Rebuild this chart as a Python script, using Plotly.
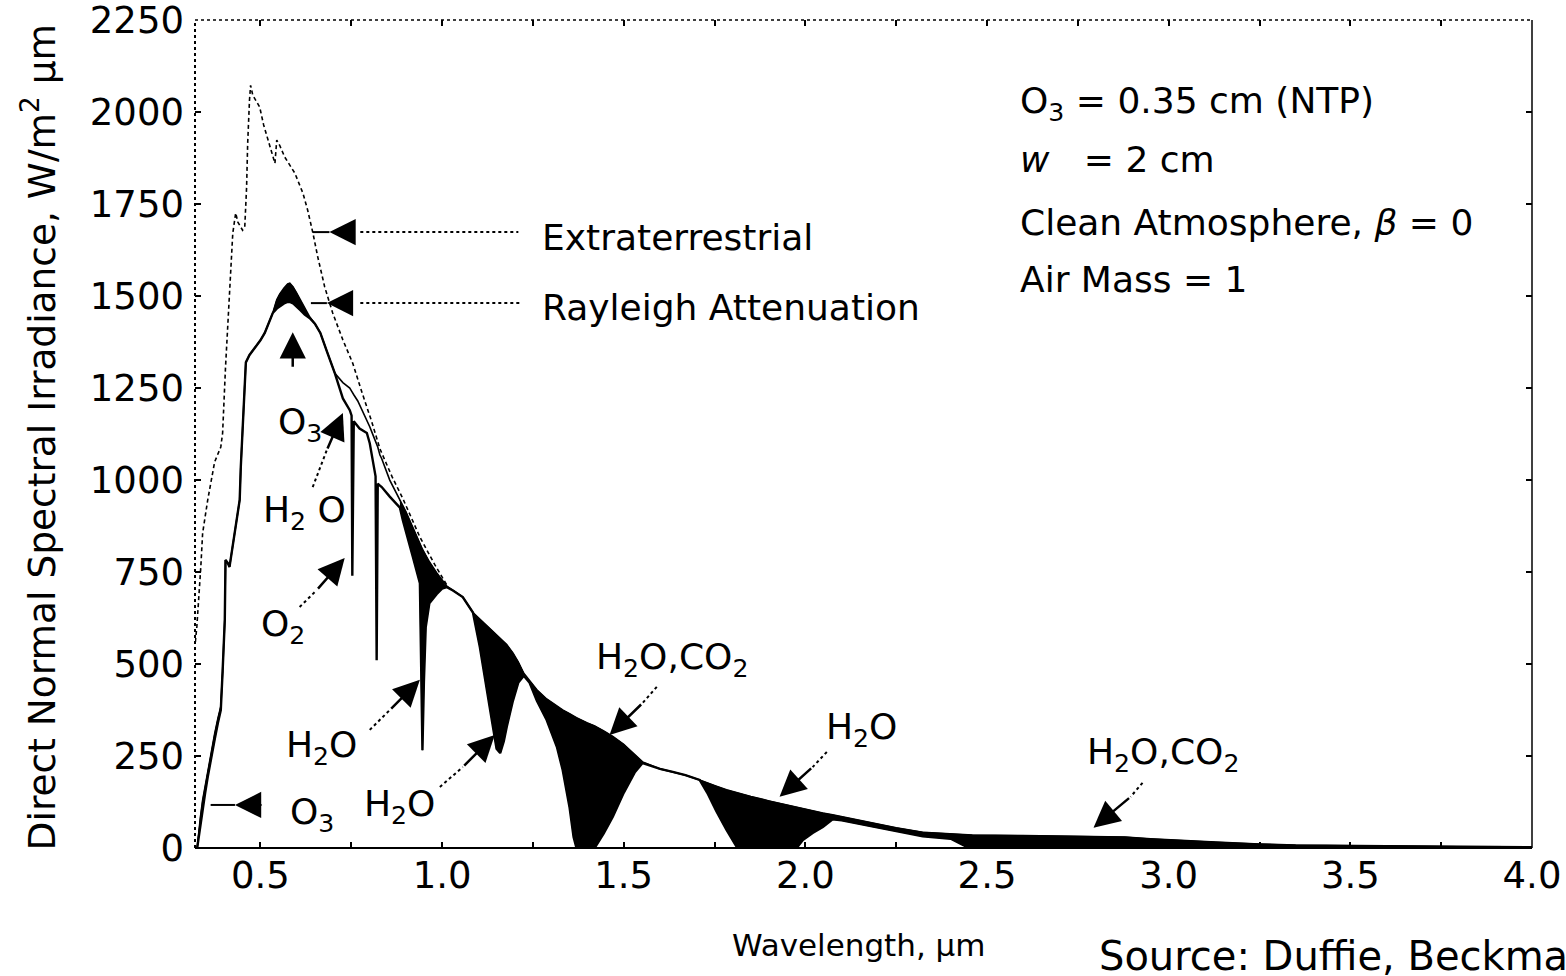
import plotly.graph_objects as go

# ---------------- data ----------------
WAVELENGTH = [0.326, 0.330, 0.335, 0.341, 0.348, 0.355, 0.364, 0.374, 0.383, 0.391,
              0.396, 0.402, 0.404, 0.410, 0.415, 0.422, 0.429, 0.436, 0.443, 0.446,
              0.451, 0.455, 0.460, 0.470, 0.485, 0.500, 0.512, 0.524, 0.534, 0.545,
              0.553, 0.565, 0.575, 0.581, 0.590, 0.600, 0.610, 0.622, 0.636, 0.650,
              0.665, 0.683, 0.705, 0.727, 0.746, 0.751, 0.753, 0.757, 0.768, 0.773,
              0.793, 0.801, 0.809, 0.817, 0.820, 0.823, 0.829, 0.834, 0.856, 0.864,
              0.884, 0.892, 0.900, 0.920, 0.939, 0.942, 0.946, 0.950, 0.955, 0.965,
              0.985, 1.000, 1.013, 1.030, 1.057, 1.085, 1.104, 1.131, 1.150, 1.160,
              1.170, 1.178, 1.195, 1.210, 1.225, 1.241, 1.261, 1.288, 1.316, 1.332,
              1.351, 1.362, 1.370, 1.400, 1.420, 1.445, 1.470, 1.500, 1.530, 1.552,
              1.600, 1.635, 1.670, 1.709, 1.730, 1.755, 1.783, 1.811, 1.850, 1.900,
              1.976, 1.993, 2.020, 2.048, 2.075, 2.100, 2.185, 2.250, 2.323, 2.400,
              2.440, 2.460, 2.600, 2.750, 2.880, 2.950, 3.000, 3.130, 3.250, 3.350,
              3.600, 3.800, 4.000]

RAYLEIGH = [0, 45, 85, 130, 170, 210, 262, 310, 352, 385,
            480, 620, 783, 775, 764, 810, 856, 900, 946, 1035,
            1144, 1200, 1320, 1340, 1360, 1380, 1400, 1430, 1454, 1490,
            1505, 1522, 1533, 1535, 1525, 1508, 1490, 1465, 1443, 1425,
            1400, 1350, 1290, 1265, 1250, 1242, 1238, 1232, 1215, 1205,
            1165, 1145, 1125, 1105, 1098, 1090, 1068, 1058, 1000, 985,
            945, 930, 915, 870, 825, 820, 812, 805, 795, 778,
            748, 728, 712, 700, 682, 640, 622, 597, 580, 570,
            560, 553, 530, 505, 475, 455, 430, 405, 385, 375,
            365, 358, 354, 340, 332, 318, 303, 282, 254, 234,
            215, 207, 198, 185, 178, 168, 158, 150, 140, 128,
            110, 106, 100, 95, 90, 85, 68, 55, 43, 38,
            37, 35, 34, 32, 30, 25, 22, 16, 11, 8,
            6, 5, 3]

DIRECT = [0, 30, 65, 112, 150, 193, 245, 294, 340, 375,
          480, 620, 783, 775, 764, 810, 856, 900, 946, 1035,
          1144, 1200, 1320, 1340, 1360, 1380, 1400, 1430, 1454, 1466,
          1472, 1480, 1484, 1484, 1480, 1472, 1462, 1450, 1440, 1425,
          1400, 1350, 1290, 1222, 1190, 1175, 740, 1160, 1144, 1140,
          1128, 1100, 1055, 1010, 510, 990, 985, 981, 955, 946,
          925, 891, 860, 790, 720, 500, 266, 450, 600, 665,
          690, 705, 709, 700, 682, 640, 546, 383, 270, 258,
          290, 329, 400, 450, 468, 449, 400, 348, 275, 212,
          110, 30, 0, 0, 0, 40, 85, 150, 205, 231,
          215, 207, 198, 185, 150, 100, 49, 3, 0, 0,
          0, 22, 41, 57, 78, 75, 58, 45, 32, 25,
          5, 0, 0, 0, 0, 2, 3, 4, 3, 3,
          3, 3, 2]

ET_WAVELENGTH = [0.321, 0.325, 0.336, 0.341, 0.355, 0.374, 0.391, 0.396, 0.404, 0.415,
                 0.418, 0.424, 0.432, 0.438, 0.451, 0.457, 0.462, 0.465, 0.470, 0.473,
                 0.479, 0.487, 0.498, 0.509, 0.520, 0.531, 0.540, 0.545, 0.553, 0.567,
                 0.581, 0.595, 0.617, 0.630, 0.644, 0.658, 0.677, 0.699, 0.727, 0.754,
                 0.779, 0.806, 0.829, 0.862, 0.892, 0.939, 0.980, 1.013]
ET_IRRADIANCE = [560, 601, 764, 856, 946, 1049, 1090, 1128, 1307, 1489,
                 1563, 1671, 1726, 1701, 1679, 1688, 1796, 1916, 2033, 2073,
                 2046, 2033, 2014, 1965, 1929, 1897, 1861, 1924, 1910, 1878,
                 1856, 1834, 1780, 1734, 1674, 1606, 1525, 1454, 1381, 1318,
                 1240, 1160, 1085, 1010, 950, 845, 770, 715]

# wavelength intervals where the absorbed part is shaded black
ABSORPTION_BANDS = [(0.326, 0.396), (0.534, 0.636), (0.884, 1.013),
                    (1.085, 1.225), (1.241, 1.552), (1.709, 4.0)]

X_TICKS = [0.5, 0.75, 1.0, 1.25, 1.5, 1.75, 2.0, 2.25, 2.5, 2.75, 3.0, 3.25, 3.5, 3.75, 4.0]
X_TICK_LABELS = ['0.5', '', '1.0', '', '1.5', '', '2.0', '', '2.5', '', '3.0', '', '3.5', '', '4.0']
Y_TICKS = [0, 250, 500, 750, 1000, 1250, 1500, 1750, 2000, 2250]
Y_TICK_LABELS = [str(v) for v in Y_TICKS]

FONT = 'DejaVu Sans'
BIG = 36
TICK = 37

fig = go.Figure()

fig.add_trace(go.Scatter(x=ET_WAVELENGTH, y=ET_IRRADIANCE, mode='lines',
                         line=dict(color='black', width=1.6, dash='4px,3px'),
                         hoverinfo='skip', showlegend=False))

for a, b in ABSORPTION_BANDS:
    idx = [i for i, w in enumerate(WAVELENGTH) if a <= w <= b]
    bx = [WAVELENGTH[i] for i in idx] + [WAVELENGTH[i] for i in reversed(idx)]
    by = [RAYLEIGH[i] for i in idx] + [DIRECT[i] for i in reversed(idx)]
    fig.add_trace(go.Scatter(x=bx, y=by, mode='lines', fill='toself', fillcolor='black',
                             line=dict(color='black', width=1), hoverinfo='skip',
                             showlegend=False))

fig.add_trace(go.Scatter(x=WAVELENGTH, y=RAYLEIGH, mode='lines',
                         line=dict(color='black', width=1.6), showlegend=False))
fig.add_trace(go.Scatter(x=WAVELENGTH, y=DIRECT, mode='lines',
                         line=dict(color='black', width=2.4), showlegend=False))

shapes = [
    dict(type='line', xref='paper', yref='paper', x0=0, x1=1, y0=0, y1=0,
         line=dict(color='black', width=2)),
    dict(type='line', xref='paper', yref='paper', x0=1, x1=1, y0=0, y1=1,
         line=dict(color='black', width=1.5)),
    dict(type='line', xref='paper', yref='paper', x0=0, x1=0, y0=0, y1=1,
         line=dict(color='black', width=2, dash='dot')),
    dict(type='line', xref='paper', yref='paper', x0=0, x1=1, y0=1, y1=1,
         line=dict(color='black', width=1.5, dash='dot')),
]

annotations = []


def label(text, x, y, anchor='center', size=BIG):
    annotations.append(dict(text=text, x=x, y=y, xref='x', yref='y', showarrow=False,
                            xanchor=anchor, yanchor='middle',
                            font=dict(family=FONT, size=size, color='black')))


def head(tip, base, width=2.5, size=2.1):
    annotations.append(dict(text='', x=tip[0], y=tip[1], ax=base[0], ay=base[1],
                            xref='x', yref='y', axref='x', ayref='y', showarrow=True,
                            arrowhead=2, arrowsize=size, arrowwidth=width,
                            arrowcolor='black', standoff=0))


def dotted(p0, p1):
    shapes.append(dict(type='line', xref='x', yref='y', x0=p0[0], y0=p0[1], x1=p1[0], y1=p1[1],
                       line=dict(color='black', width=2, dash='dot')))


def solid(p0, p1, w=2):
    shapes.append(dict(type='line', xref='x', yref='y', x0=p0[0], y0=p0[1], x1=p1[0], y1=p1[1],
                       line=dict(color='black', width=w)))


# curve labels
label('Extraterrestrial', 1.269, 1658, 'left')
solid((0.644, 1674), (0.690, 1674))
head((0.690, 1674), (0.762, 1674))
dotted((0.775, 1674), (1.21, 1674))

label('Rayleigh Attenuation', 1.269, 1470, 'left')
solid((0.639, 1481), (0.683, 1481))
head((0.683, 1481), (0.742, 1481))
dotted((0.775, 1481), (1.214, 1481))

label('O<sub>3</sub>', 0.608, 1150)
head((0.589, 1402), (0.589, 1304))

label('H<sub>2</sub> O', 0.622, 913)
dotted((0.644, 981), (0.683, 1082))
head((0.727, 1182), (0.683, 1082))

label('O<sub>2</sub>', 0.562, 601)
dotted((0.608, 655), (0.655, 701))
head((0.732, 788), (0.655, 701))

label('H<sub>2</sub>O', 0.669, 272)
dotted((0.801, 321), (0.856, 375))
head((0.939, 457), (0.856, 375))

label('H<sub>2</sub>O', 0.884, 112)
dotted((0.994, 166), (1.057, 220))
head((1.145, 307), (1.057, 220))

label('O<sub>3</sub>', 0.641, 90)
solid((0.363, 117), (0.43, 117))
head((0.43, 117), (0.466, 117))
dotted((0.495, 117), (0.51, 117))

label('H<sub>2</sub>O,CO<sub>2</sub>', 1.632, 511)
dotted((1.591, 438), (1.552, 394))
head((1.461, 307), (1.552, 394))

label('H<sub>2</sub>O', 2.155, 321)
dotted((2.059, 261), (2.020, 220))
head((1.929, 139), (2.020, 220))

label('H<sub>2</sub>O,CO<sub>2</sub>', 2.983, 253)
dotted((2.928, 177), (2.895, 139))
head((2.793, 55), (2.895, 139))

# condition block
label('O<sub>3</sub> = 0.35 cm (NTP)', 2.584, 2024, 'left')
label('<i>w</i>\u00a0\u00a0 = 2 cm', 2.584, 1870, 'left')
label('Clean Atmosphere, <i>β</i> = 0', 2.584, 1701, 'left')
label('Air Mass = 1', 2.584, 1544, 'left')

# axis titles and source
annotations.append(dict(text='Direct Normal Spectral Irradiance, W/m<sup>2</sup> µm',
                        xref='paper', yref='paper', x=-0.116, y=0.497, textangle=-90,
                        showarrow=False, xanchor='center', yanchor='middle',
                        font=dict(family=FONT, size=37.5, color='black')))
annotations.append(dict(text='Wavelength, µm', xref='paper', yref='paper', x=0.497, y=-0.117,
                        showarrow=False, xanchor='center', yanchor='middle',
                        font=dict(family=FONT, size=31, color='black')))
annotations.append(dict(text='Source: Duffie, Beckman', xref='paper', yref='paper',
                        x=0.6747, y=-0.131, showarrow=False, xanchor='left', yanchor='middle',
                        font=dict(family=FONT, size=40, color='black')))

fig.update_layout(
    width=1566, height=976,
    margin=dict(l=195, r=34, t=20, b=128, autoexpand=False),
    paper_bgcolor='white', plot_bgcolor='white',
    font=dict(family=FONT, color='black'),
    showlegend=False,
    shapes=shapes,
    annotations=annotations,
    xaxis=dict(range=[0.32, 4.0], tickmode='array', tickvals=X_TICKS, ticktext=X_TICK_LABELS,
               ticks='inside', ticklen=6, tickwidth=1.5, tickcolor='black', mirror='ticks',
               showgrid=False, zeroline=False, showline=False, automargin=False,
               ticklabeloverflow='allow',
               tickfont=dict(family=FONT, size=TICK, color='black'), ticklabelstandoff=2),
    yaxis=dict(range=[0, 2250.5], tickmode='array', tickvals=Y_TICKS, ticktext=Y_TICK_LABELS,
               ticks='inside', ticklen=6, tickwidth=1.5, tickcolor='black', mirror='ticks',
               showgrid=False, zeroline=False, showline=False, automargin=False,
               ticklabeloverflow='allow',
               tickfont=dict(family=FONT, size=TICK, color='black'), ticklabelstandoff=10),
)

fig.write_html('out.html', config={'displayModeBar': False},
               post_script="document.body.style.margin='0';document.body.style.overflow='hidden';")
